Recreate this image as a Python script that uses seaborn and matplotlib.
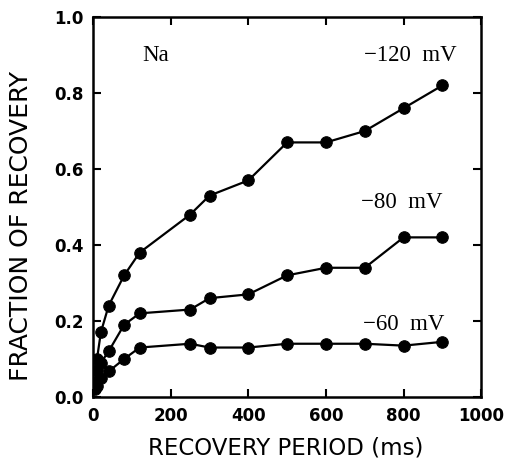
import matplotlib
matplotlib.use("Agg")
import matplotlib.pyplot as plt
import seaborn as sns
import pandas as pd

period_ms = [5, 10, 20, 40, 80, 120, 250, 300, 400, 500, 600, 700, 800, 900]
rec_m120 = [0.04, 0.10, 0.17, 0.24, 0.32, 0.38, 0.48, 0.53, 0.57, 0.67, 0.67, 0.70, 0.76, 0.82]
rec_m80 = [0.03, 0.07, 0.09, 0.12, 0.19, 0.22, 0.23, 0.26, 0.27, 0.32, 0.34, 0.34, 0.42, 0.42]
rec_m60 = [0.02, 0.03, 0.05, 0.067, 0.10, 0.13, 0.14, 0.13, 0.13, 0.14, 0.14, 0.14, 0.135, 0.145]
series_labels = ["\u2212120  mV", "\u221280  mV", "\u221260  mV"]

rows = []
for lab, vals in zip(series_labels, [rec_m120, rec_m80, rec_m60]):
    for x, y in zip(period_ms, vals):
        rows.append({"period": x, "frac": y, "series": lab})
df = pd.DataFrame(rows)

sns.set_style("ticks")
plt.rcParams['font.family'] = ['DejaVu Sans']
plt.rcParams['text.color'] = 'black'
plt.rcParams['axes.labelcolor'] = 'black'
plt.rcParams['xtick.color'] = 'black'
plt.rcParams['ytick.color'] = 'black'

fig = plt.figure(figsize=(5.06, 4.61), dpi=100)
ax = fig.add_axes([0.184, 0.139, 0.767, 0.824])

sns.lineplot(data=df, x="period", y="frac", hue="series", units="series",
             estimator=None, palette=["black"] * 3, marker="o", markersize=8.3,
             markeredgecolor="black", linewidth=1.6, legend=False, ax=ax, sort=False)

ax.set_xlim(0, 1000)
ax.set_ylim(0, 1.0)
ax.set_xticks([0, 200, 400, 600, 800, 1000])
ax.set_yticks([0.0, 0.2, 0.4, 0.6, 0.8, 1.0])
ax.set_yticklabels(["0.0", "0.2", "0.4", "0.6", "0.8", "1.0"])
ax.tick_params(direction="in", top=True, right=True, length=6, width=1.5,
               labelsize=12, pad=7, colors="black")
for lbl in ax.get_xticklabels() + ax.get_yticklabels():
    lbl.set_fontweight("bold")
for s in ax.spines.values():
    s.set_linewidth(1.8)
    s.set_color("black")

ax.set_xlabel("RECOVERY PERIOD (ms)", fontsize=16.5)
ax.set_ylabel("FRACTION OF RECOVERY", fontsize=18)
ax.xaxis.set_label_coords(0.495, -0.105)
ax.yaxis.set_label_coords(-0.155, 0.45)

serif = ["Liberation Serif", "DejaVu Serif"]
ax.text(162, 0.884, "Na", fontsize=16.5, family=serif, ha="center", va="baseline")
ax.text(817, 0.884, series_labels[0], fontsize=16.5, family=serif, ha="center", va="baseline")
ax.text(794, 0.497, series_labels[1], fontsize=16.5, family=serif, ha="center", va="baseline")
ax.text(799, 0.176, series_labels[2], fontsize=16.5, family=serif, ha="center", va="baseline")

fig.savefig("out.png", dpi=100)
